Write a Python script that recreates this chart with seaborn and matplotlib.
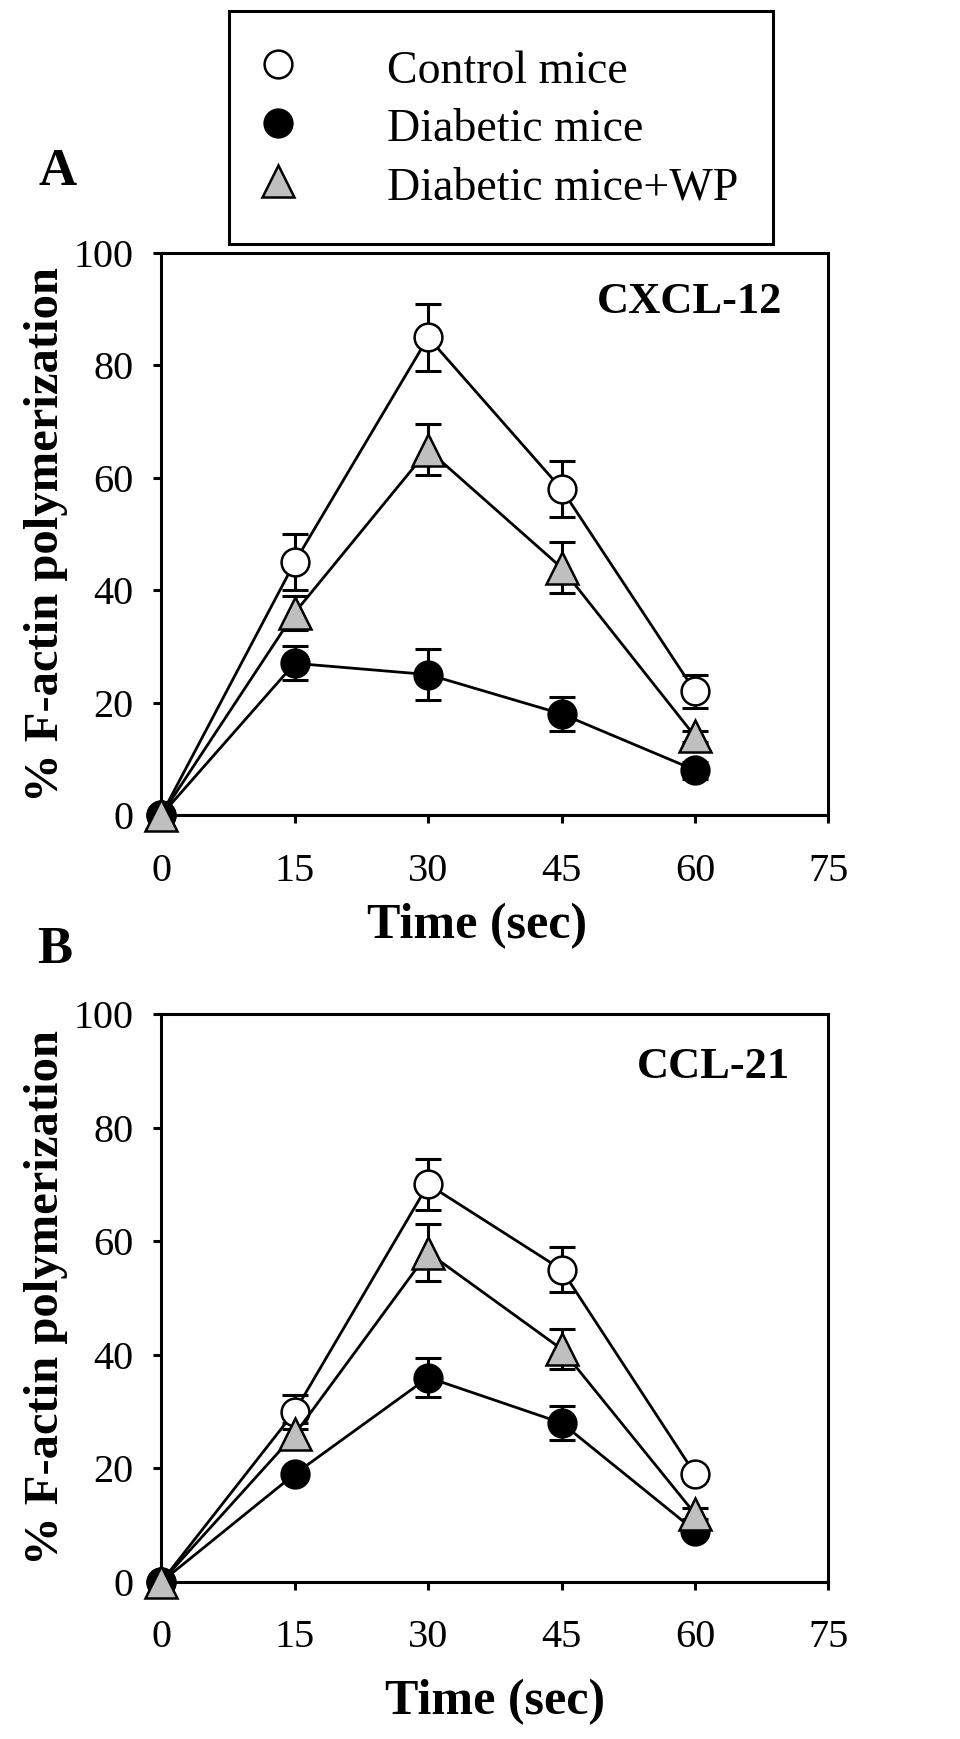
import numpy as np
import pandas as pd
import matplotlib
matplotlib.use("Agg")
import matplotlib.pyplot as plt
from matplotlib.lines import Line2D
import seaborn as sns

# DATA
times = [0, 15, 30, 45, 60]
groups = ["Control mice", "Diabetic mice", "Diabetic mice+WP"]

# panel A, CXCL-12
cxcl_control = [0, 45, 85, 58, 22]
cxcl_control_err = [0, 5, 6, 5, 3]
cxcl_diabetic = [0, 27, 25, 18, 8]
cxcl_diabetic_err = [0, 3, 4.5, 3, 1.5]
cxcl_wp = [0, 36, 65, 44, 14]
cxcl_wp_err = [0, 3, 4.5, 4.5, 1]

# panel B, CCL-21
ccl_control = [0, 30, 70, 55, 19]
ccl_control_err = [0, 3, 4.5, 4, 1]
ccl_diabetic = [0, 19, 36, 28, 9]
ccl_diabetic_err = [0, 1, 3.5, 3, 1]
ccl_wp = [0, 26, 58, 41, 12]
ccl_wp_err = [0, 2, 5, 3.5, 1]

# style per group: marker, face colour, size
styles = {
    "Control mice": ("o", "white", 20),
    "Diabetic mice": ("o", "black", 20),
    "Diabetic mice+WP": ("^", "#bfbfbf", 23),
}

sns.set_style("ticks")
plt.rcParams['font.family'] = ['Liberation Serif', 'DejaVu Serif']
plt.rcParams['text.color'] = 'black'
plt.rcParams['axes.labelcolor'] = 'black'
plt.rcParams['xtick.color'] = 'black'
plt.rcParams['ytick.color'] = 'black'


def make_frame(vals, errs):
    rows = []
    for g, v, e in zip(groups, vals, errs):
        for t, y, s in zip(times, v, e):
            rows.append({"time": t, "value": y, "err": s, "group": g})
    return pd.DataFrame(rows)


def draw_panel(ax, df, title, tx, ty):
    for g in groups:
        sub = df[df["group"] == g]
        marker, face, ms = styles[g]
        ax.errorbar(sub["time"], sub["value"], yerr=sub["err"], fmt="none",
                    ecolor="black", elinewidth=2.2, capsize=9.5, capthick=2.2,
                    zorder=2, clip_on=False)
        sns.lineplot(data=sub, x="time", y="value", ax=ax, color="black",
                     linewidth=2.0, marker=marker, markersize=ms,
                     markerfacecolor=face, markeredgecolor="black", mew=1.8,
                     errorbar=None, legend=False, zorder=3, clip_on=False)
    ax.set_xlim(0, 75)
    ax.set_ylim(0, 100)
    ax.set_xticks([0, 15, 30, 45, 60, 75])
    ax.set_yticks([0, 20, 40, 60, 80, 100])
    for sp in ax.spines.values():
        sp.set_visible(True)
        sp.set_linewidth(2.2)
        sp.set_color("black")
    ax.tick_params(axis="both", direction="out", length=6, width=2.2,
                   labelsize=29, colors="black")
    ax.tick_params(axis="x", pad=21)
    ax.tick_params(axis="y", pad=14)
    ax.set_xlabel("Time (sec)", fontsize=36, fontweight="bold")
    ax.set_ylabel("% F-actin polymerization", fontsize=35, fontweight="bold")
    ax.yaxis.set_label_coords(-0.14, 0.5)
    ax.text(tx, ty, title, transform=ax.transAxes, ha="right", va="center",
            fontsize=32, fontweight="bold")


fig = plt.figure(figsize=(9.6, 17.39), dpi=100)
ax_a = fig.add_axes([0.168, 0.5313, 0.695, 0.3232])
ax_b = fig.add_axes([0.168, 0.0903, 0.695, 0.3266])

df_a = make_frame([cxcl_control, cxcl_diabetic, cxcl_wp],
                  [cxcl_control_err, cxcl_diabetic_err, cxcl_wp_err])
df_b = make_frame([ccl_control, ccl_diabetic, ccl_wp],
                  [ccl_control_err, ccl_diabetic_err, ccl_wp_err])

draw_panel(ax_a, df_a, "CXCL-12", 0.931, 0.913)
draw_panel(ax_b, df_b, "CCL-21", 0.943, 0.907)
ax_a.xaxis.set_label_coords(0.473, -0.157)
ax_b.xaxis.set_label_coords(0.5, -0.17)

fig.text(58 / 960, 1 - 172 / 1739, "A", fontsize=38, fontweight="bold",
         ha="center", va="center")
fig.text(55 / 960, 1 - 950 / 1739, "B", fontsize=38, fontweight="bold",
         ha="center", va="center")

handles = []
for g in groups:
    marker, face, ms = styles[g]
    handles.append(Line2D([], [], linestyle="none", marker=marker, markersize=ms,
                          markerfacecolor=face, markeredgecolor="black", mew=1.8))
leg = fig.legend(handles, groups, loc="upper left",
                 bbox_to_anchor=(229 / 960, 1 - 11 / 1739), borderaxespad=0,
                 fontsize=33, frameon=True, fancybox=False, edgecolor="black",
                 framealpha=1, borderpad=0.75, handlelength=0.65,
                 handleheight=1.07, handletextpad=2.05, labelspacing=0.25)
leg.get_frame().set_linewidth(2.2)

fig.savefig("out.png", dpi=100)
